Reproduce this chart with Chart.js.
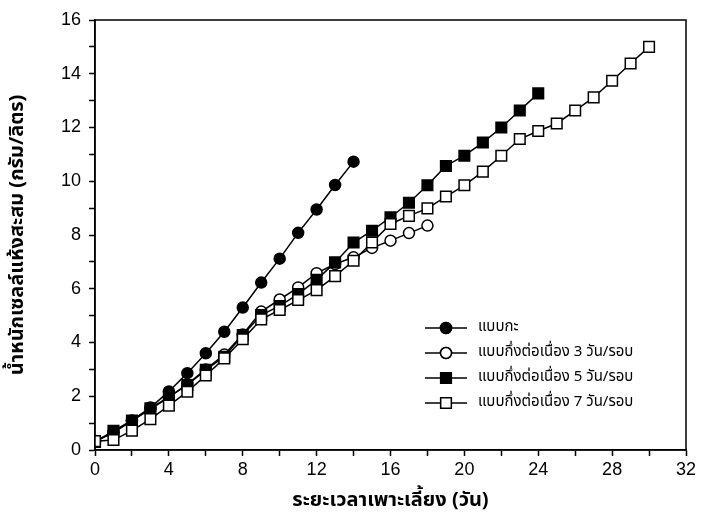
<!DOCTYPE html>
<html>
<head>
<meta charset="utf-8">
<script src="https://cdn.jsdelivr.net/npm/chart.js@4/dist/chart.umd.min.js"></script>
<style>
  html, body { margin: 0; padding: 0; background: #fff; }
  #wrap { width: 702px; height: 529px; }
</style>
</head>
<body>
<div id="wrap"><canvas id="chart"></canvas></div>
<script>
// ข้อมูลอ่านจากกราฟ: น้ำหนักเซลล์แห้งสะสม (กรัม/ลิตร) ตามวันเลี้ยง
const seriesNames = [
    'แบบกะ',
    'แบบกึ่งต่อเนื่อง 3 วัน/รอบ',
    'แบบกึ่งต่อเนื่อง 5 วัน/รอบ',
    'แบบกึ่งต่อเนื่อง 7 วัน/รอบ',
];

const daysBatch = [0, 1, 2, 3, 4, 5, 6, 7, 8, 9, 10, 11, 12, 13, 14];
const valBatch = [0.33, 0.65, 1.1, 1.58, 2.18, 2.86, 3.6, 4.4, 5.3, 6.23, 7.12, 8.08, 8.95, 9.86, 10.73];

const days3 = [0, 1, 2, 3, 4, 5, 6, 7, 8, 9, 10, 11, 12, 13, 14, 15, 16, 17, 18];
const val3 = [0.3, 0.66, 1.08, 1.52, 1.96, 2.45, 3.0, 3.55, 4.3, 5.15, 5.6, 6.05, 6.58, 6.92, 7.17, 7.52, 7.79, 8.07, 8.35];

const days5 = [0, 1, 2, 3, 4, 5, 6, 7, 8, 9, 10, 11, 12, 13, 14, 15, 16, 17, 18, 19, 20, 21, 22, 23, 24];
const val5 = [0.3, 0.71, 1.1, 1.55, 1.98, 2.42, 2.98, 3.47, 4.28, 5.02, 5.36, 5.8, 6.33, 6.98, 7.72, 8.16, 8.66, 9.2, 9.85, 10.57, 10.95, 11.44, 12.0, 12.63, 13.27];

const days7 = [0, 1, 2, 3, 4, 5, 6, 7, 8, 9, 10, 11, 12, 13, 14, 15, 16, 17, 18, 19, 20, 21, 22, 23, 24, 25, 26, 27, 28, 29, 30];
const val7 = [0.33, 0.37, 0.72, 1.15, 1.65, 2.17, 2.77, 3.41, 4.12, 4.86, 5.21, 5.58, 5.95, 6.47, 7.04, 7.72, 8.41, 8.71, 8.99, 9.43, 9.85, 10.36, 10.95, 11.57, 11.87, 12.15, 12.63, 13.12, 13.74, 14.38, 15.0];

const xTicks = [0, 4, 8, 12, 16, 20, 24, 28, 32];
const yTicks = [0, 2, 4, 6, 8, 10, 12, 14, 16];

const thaiFont = "Tahoma, 'Noto Sans Thai', 'Noto Sans', 'DejaVu Sans', sans-serif";
const numFont = "'Liberation Sans', Arial, sans-serif";

function pts(xs, ys) {
    return xs.map((x, i) => ({ x: x, y: ys[i] }));
}

function makeSet(label, data, style, filled, order) {
    return {
        label: label,
        data: data,
        borderColor: '#000',
        borderWidth: 1.5,
        backgroundColor: filled ? '#000' : '#fff',
        pointStyle: style,
        pointRadius: style === 'rect' ? 7.5 : 5.5,
        pointBorderWidth: 1.5,
        pointBorderColor: '#000',
        pointBackgroundColor: filled ? '#000' : '#fff',
        tension: 0,
        fill: false,
        order: order,
    };
}

// cadre + légende dessinés à la main
const framePlugin = {
    id: 'frame',
    afterDatasetsDraw(chart) {
        const { ctx, chartArea: a } = chart;
        ctx.save();
        ctx.strokeStyle = '#000';
        ctx.lineWidth = 1.5;
        ctx.strokeRect(a.left, a.top, a.right - a.left, a.bottom - a.top);

        // légende
        const rowsY = [328, 353, 378, 403];
        const x0 = 425, x1 = 467, xm = 446, xt = 478;
        ctx.font = '15px ' + thaiFont;
        ctx.textBaseline = 'middle';
        ctx.fillStyle = '#000';
        chart.data.datasets.forEach((ds, i) => {
            const y = rowsY[i];
            ctx.beginPath();
            ctx.moveTo(x0, y);
            ctx.lineTo(x1, y);
            ctx.lineWidth = 1.5;
            ctx.stroke();
            Chart.helpers.drawPoint(ctx, {
                pointStyle: ds.pointStyle,
                radius: ds.pointRadius,
                borderWidth: 1.5,
            }, xm, y);
            ctx.fillStyle = ds.pointBackgroundColor;
            ctx.fill();
            ctx.stroke();
            ctx.fillStyle = '#000';
            ctx.fillText(ds.label, xt, y);
        });
        ctx.restore();
    },
};

new Chart(document.getElementById('chart'), {
    type: 'line',
    data: {
        datasets: [
            makeSet(seriesNames[0], pts(daysBatch, valBatch), 'circle', true, 4),
            makeSet(seriesNames[1], pts(days3, val3), 'circle', false, 3),
            makeSet(seriesNames[2], pts(days5, val5), 'rect', true, 2),
            makeSet(seriesNames[3], pts(days7, val7), 'rect', false, 1),
        ],
    },
    options: {
        responsive: true,
        maintainAspectRatio: false,
        animation: false,
        layout: { padding: { left: 0, top: 20, right: 16, bottom: 0 } },
        plugins: {
            legend: { display: false },
            tooltip: { enabled: false },
        },
        scales: {
            x: {
                type: 'linear',
                min: 0,
                max: 32,
                afterFit(s) { s.height = 79; },
                afterBuildTicks(s) {
                    s.ticks = [];
                    for (let v = 0; v <= 32; v += 2) s.ticks.push({ value: v });
                },
                ticks: {
                    color: '#000',
                    font: { family: numFont, size: 18 },
                    padding: 3,
                    maxRotation: 0,
                    autoSkip: false,
                    callback: (v) => (xTicks.includes(v) ? String(v) : ''),
                },
                grid: {
                    drawOnChartArea: false,
                    drawTicks: true,
                    tickLength: 6,
                    tickColor: '#000',
                    tickWidth: 1.5,
                },
                border: { display: true, color: '#000', width: 1.5 },
                title: {
                    display: true,
                    text: 'ระยะเวลาเพาะเลี้ยง (วัน)',
                    color: '#000',
                    font: { family: thaiFont, size: 20, weight: 'bold' },
                    padding: { top: 0, bottom: 15 },
                },
            },
            y: {
                type: 'linear',
                min: 0,
                max: 16,
                afterFit(s) { s.width = 95; },
                afterBuildTicks(s) {
                    s.ticks = [];
                    for (let v = 0; v <= 16; v += 1) s.ticks.push({ value: v });
                },
                ticks: {
                    color: '#000',
                    font: { family: numFont, size: 18 },
                    padding: 8,
                    autoSkip: false,
                    callback: (v) => (yTicks.includes(v) ? String(v) : ''),
                },
                grid: {
                    drawOnChartArea: false,
                    drawTicks: true,
                    tickLength: 6,
                    tickColor: '#000',
                    tickWidth: 1.5,
                },
                border: { display: true, color: '#000', width: 1.5 },
                title: {
                    display: true,
                    text: 'น้ำหนักเซลล์แห้งสะสม (กรัม/ลิตร)',
                    color: '#000',
                    font: { family: thaiFont, size: 20, weight: 'bold' },
                    padding: { top: 7, bottom: 0 },
                },
            },
        },
    },
    plugins: [framePlugin],
});
</script>
</body>
</html>
